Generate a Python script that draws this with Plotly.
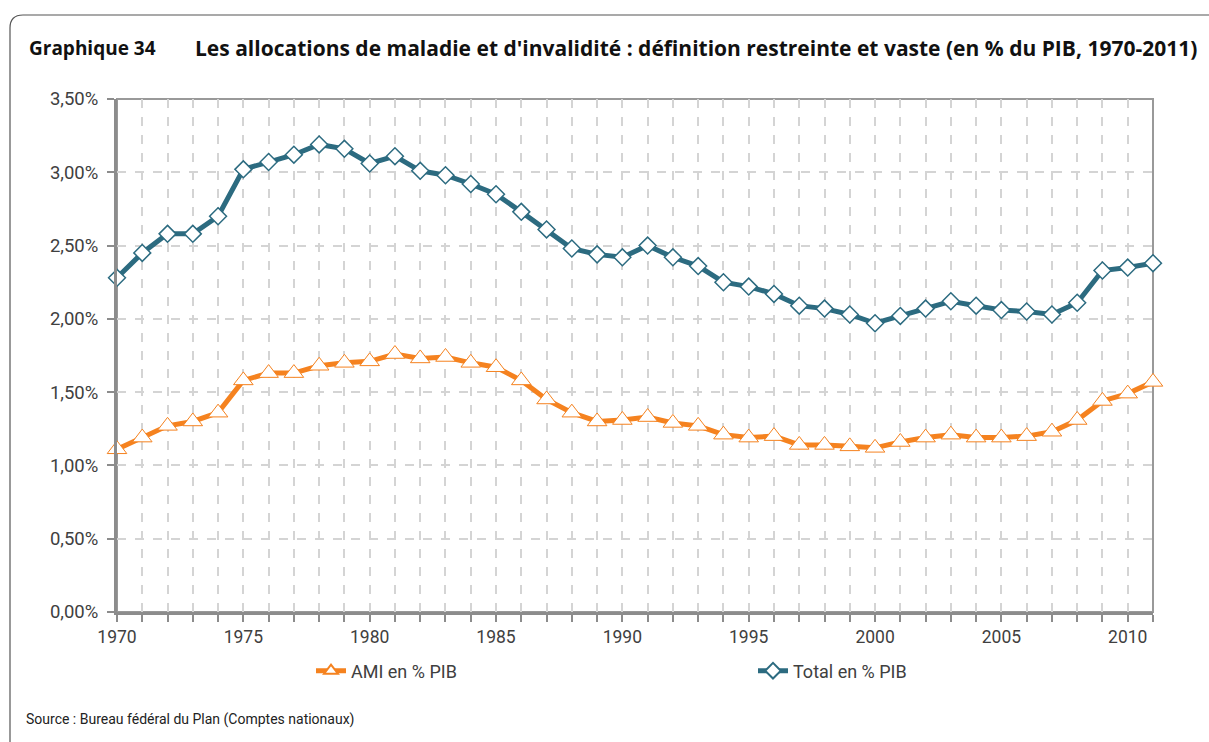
import plotly.graph_objects as go

# Years covered by the series
years = list(range(1970, 2012))

# Narrow definition: sickness & invalidity benefits (AMI), % of GDP
ami_pct = [1.11, 1.19, 1.27, 1.30, 1.36, 1.58, 1.63, 1.63, 1.68, 1.70,
           1.71, 1.76, 1.73, 1.74, 1.70, 1.67, 1.58, 1.45, 1.36, 1.30,
           1.31, 1.33, 1.29, 1.27, 1.21, 1.19, 1.20, 1.14, 1.14, 1.13,
           1.12, 1.16, 1.19, 1.21, 1.19, 1.19, 1.20, 1.23, 1.31, 1.44,
           1.49, 1.57]

# Broad definition: total, % of GDP
total_pct = [2.28, 2.45, 2.58, 2.58, 2.70, 3.02, 3.07, 3.12, 3.19, 3.16,
             3.06, 3.11, 3.01, 2.98, 2.92, 2.85, 2.73, 2.61, 2.48, 2.44,
             2.42, 2.50, 2.42, 2.36, 2.25, 2.22, 2.17, 2.09, 2.07, 2.03,
             1.97, 2.02, 2.07, 2.12, 2.09, 2.06, 2.05, 2.03, 2.11, 2.33,
             2.35, 2.38]

y_ticks = [0, 0.5, 1.0, 1.5, 2.0, 2.5, 3.0, 3.5]
y_tick_labels = ["0,00%", "0,50%", "1,00%", "1,50%", "2,00%", "2,50%", "3,00%", "3,50%"]
x_tick_labels = [str(y) if y % 5 == 0 else "" for y in years]

title_num = "Graphique 34"
title_txt = "Les allocations de maladie et d'invalidité : définition restreinte et vaste (en % du PIB, 1970-2011)"
source_txt = "Source : Bureau fédéral du Plan (Comptes nationaux)"

ORANGE = "#F5821F"
BLUE = "#2C6B80"
W, H = 1209, 742
L, R, T, B = 117, 1153, 99, 612


def px_x(x):
    return (x - L) / (R - L)


def px_y(y):
    return (B - y) / (B - T)


FONT = "Roboto"
TITLE_FONT = "Open Sans"

fig = go.Figure()
fig.add_trace(go.Scatter(
    x=years, y=ami_pct, name="AMI en % PIB", mode="lines+markers",
    line=dict(color=ORANGE, width=5),
    marker=dict(symbol="triangle-up", size=17, color="white",
                line=dict(color=ORANGE, width=1)),
    cliponaxis=False, legend="legend", showlegend=True,
))
fig.add_trace(go.Scatter(
    x=years, y=total_pct, name="Total en % PIB", mode="lines+markers",
    line=dict(color=BLUE, width=5),
    marker=dict(symbol="diamond", size=13, color="white",
                line=dict(color=BLUE, width=1.5)),
    cliponaxis=False, legend="legend2", showlegend=True,
))

# Rounded outer frame (top and left edges), plus plot-area border
frame_path = (f"M {px_x(10)},{px_y(760)} L {px_x(10)},{px_y(28)} "
              f"Q {px_x(10)},{px_y(15)} {px_x(23)},{px_y(15)} L {px_x(1220)},{px_y(15)}")
shapes = [
    dict(type="path", path=frame_path, xref="paper", yref="paper",
         line=dict(color="#555555", width=1.2)),
    dict(type="rect", x0=0, x1=1, y0=0, y1=1, xref="paper", yref="paper",
         line=dict(color="#999999", width=2), layer="below"),
]

annotations = [
    dict(text=f"<b>{title_num}</b>", x=px_x(27), y=px_y(48), xref="paper", yref="paper",
         xanchor="left", yanchor="middle", showarrow=False,
         font=dict(family=TITLE_FONT, size=19, color="#111111")),
    dict(text=f"<b>{title_txt}</b>", x=px_x(193), y=px_y(48), xref="paper", yref="paper",
         xanchor="left", yanchor="middle", showarrow=False,
         font=dict(family=TITLE_FONT, size=21, color="#111111")),
    dict(text=source_txt, x=px_x(24), y=px_y(719), xref="paper", yref="paper",
         xanchor="left", yanchor="middle", showarrow=False,
         font=dict(family=FONT, size=14, color="#222222")),
]

legend_common = dict(orientation="h", yanchor="middle", xanchor="left",
                     bgcolor="rgba(0,0,0,0)", font=dict(family=FONT, size=18, color="#404040"),
                     itemsizing="constant")

fig.update_layout(
    width=W, height=H,
    margin=dict(l=L, r=W - R, t=T, b=H - B),
    paper_bgcolor="white", plot_bgcolor="white",
    font=dict(family=FONT, size=17, color="#404040"),
    showlegend=True,
    shapes=shapes, annotations=annotations,
    legend=dict(x=px_x(311), y=px_y(671), **legend_common),
    legend2=dict(x=px_x(753), y=px_y(671), **legend_common),
    xaxis=dict(range=[1970, 2011], tickvals=years, ticktext=x_tick_labels,
               showgrid=True, gridcolor="#D4D4D4", gridwidth=2, griddash="dash",
               showline=True, linecolor="#8C8C8C", linewidth=3,
               ticks="outside", ticklen=7, tickwidth=2, tickcolor="#8C8C8C",
               tickfont=dict(family=FONT, size=17.5, color="#404040"),
               zeroline=False, fixedrange=True),
    yaxis=dict(range=[0, 3.5], tickvals=y_ticks, ticktext=y_tick_labels,
               showgrid=True, gridcolor="#D4D4D4", gridwidth=2, griddash="dash",
               showline=True, linecolor="#8C8C8C", linewidth=3,
               ticks="outside", ticklen=7, tickwidth=2, tickcolor="#8C8C8C",
               ticklabelstandoff=5,
               tickfont=dict(family=FONT, size=18.5, color="#404040"),
               zeroline=False, fixedrange=True),
)

fig.write_html("out.html")
